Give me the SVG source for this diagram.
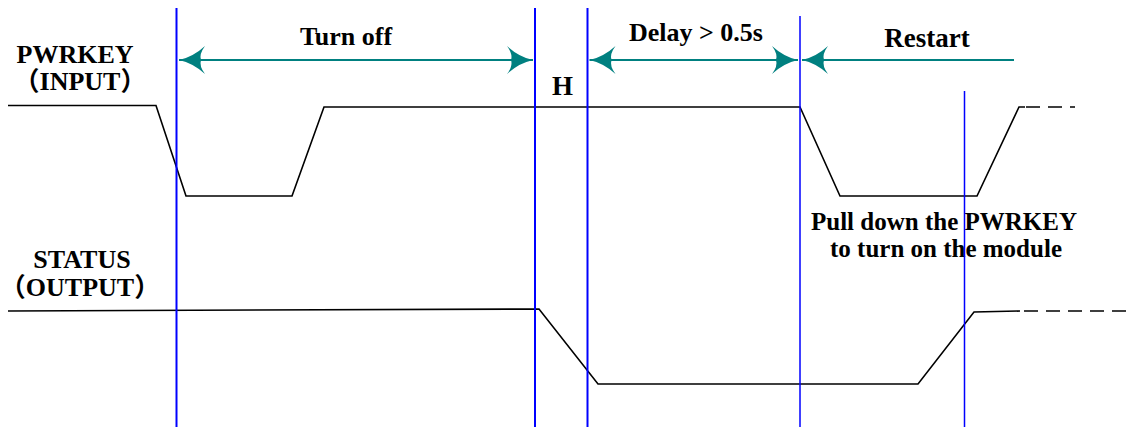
<svg xmlns="http://www.w3.org/2000/svg" width="1134" height="427" viewBox="0 0 1134 427">
<style>
.t{font-family:"Liberation Serif","Noto Sans CJK SC",serif;font-weight:bold;fill:#000}
.wave{fill:none;stroke:#000;stroke-width:1.6;stroke-linejoin:miter}
.dash{fill:none;stroke:#000;stroke-width:1.6;stroke-dasharray:14 8}
.vb{stroke:#0000ff;stroke-width:2}
.vt{stroke:#0000ff;stroke-width:1.5}
.arr{stroke:#008080;stroke-width:2;fill:none}
</style>
<defs>
<marker id="ah" markerUnits="userSpaceOnUse" viewBox="-28 -16 30 32" refX="0" refY="0" markerWidth="30" markerHeight="32" orient="auto-start-reverse">
<path d="M0,0 Q-14,-3 -26,-14 Q-20,-6 -22,0 Q-20,6 -26,14 Q-14,3 0,0 Z" fill="#008080"/>
</marker>
</defs>
<rect width="1134" height="427" fill="#fff"/>
<g id="labels">
<text class="t" x="75" y="63" font-size="26" text-anchor="middle">PWRKEY</text>
<text class="t" x="80" y="90" font-size="26" text-anchor="middle">（INPUT）</text>
<text class="t" x="82" y="268" font-size="26" text-anchor="middle">STATUS</text>
<text class="t" x="80" y="296" font-size="26" text-anchor="middle">（OUTPUT）</text>
<text class="t" x="562.5" y="95" font-size="27" text-anchor="middle">H</text>
<text class="t" x="346" y="45" font-size="26" text-anchor="middle">Turn off</text>
<text class="t" x="696" y="41" font-size="26" text-anchor="middle">Delay &gt; 0.5s</text>
<text class="t" x="927" y="47" font-size="27" text-anchor="middle">Restart</text>
<text class="t" x="944" y="230" font-size="25" text-anchor="middle">Pull down the PWRKEY</text>
<text class="t" x="946" y="257" font-size="25" text-anchor="middle">to turn on the module</text>
</g>
<g id="waveforms">
<polyline id="pwrkey" class="wave" points="8,105.5 156,105.5 186,196 292,196 324,107 800,107 840,196 977,196 1019,107 1025,107"/>
<line class="dash" x1="1026" y1="107" x2="1075" y2="107" stroke-dasharray="0 6 15 7 15 7 13 50"/>
<polyline id="status" class="wave" points="8,311 539,309 598,384 918,384 974,312 1020,311"/>
<line class="dash" x1="1024" y1="311" x2="1134" y2="311" stroke-dasharray="16 9"/>
</g>
<g id="time-markers">
<line class="vb" x1="176.5" y1="8" x2="176.5" y2="427"/>
<line class="vb" x1="535" y1="8" x2="535" y2="427"/>
<line class="vb" x1="587.5" y1="8" x2="587.5" y2="427"/>
<line class="vt" x1="800" y1="16" x2="800" y2="427"/>
<line class="vt" x1="964.5" y1="91" x2="964.5" y2="427"/>
</g>
<g id="connectors">
<line class="arr" x1="179" y1="60" x2="533" y2="60" marker-start="url(#ah)" marker-end="url(#ah)"/>
<line class="arr" x1="589.5" y1="60" x2="798" y2="60" marker-start="url(#ah)" marker-end="url(#ah)"/>
<line class="arr" x1="802" y1="60" x2="1014" y2="60" marker-start="url(#ah)"/>
</g>
</svg>
